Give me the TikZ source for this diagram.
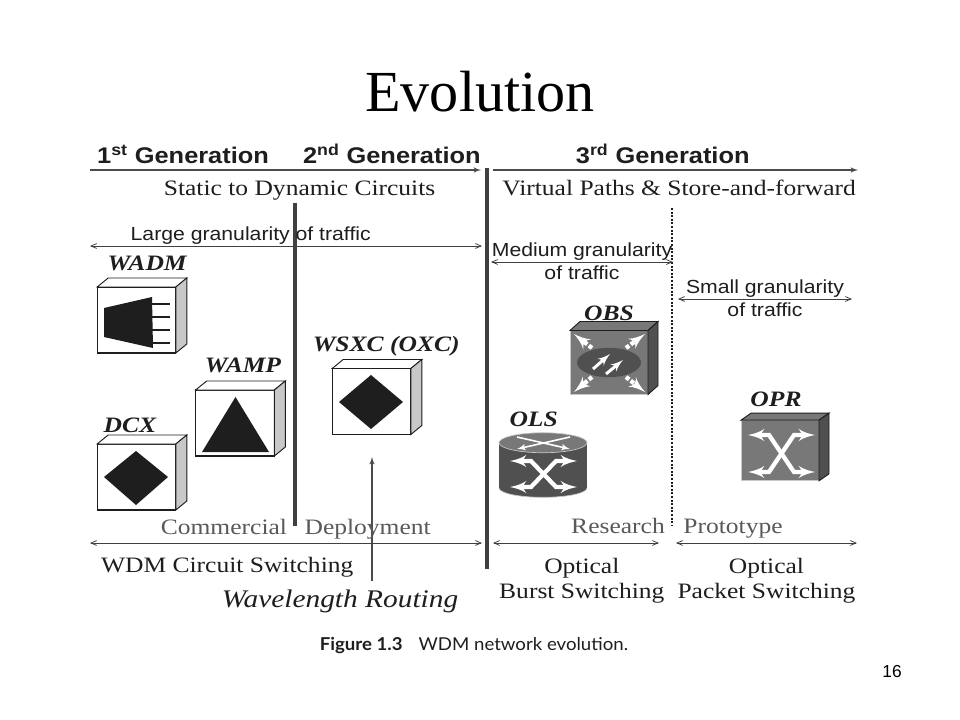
\documentclass[tikz,border=0pt]{standalone}
\usepackage{fontspec}
\setmainfont{Liberation Serif}
\setsansfont[FakeStretch=1.12]{Liberation Sans}
\newfontfamily\wideserif[FakeStretch=1.16]{Liberation Serif}
\newfontfamily\capfont[FakeStretch=1.05]{Lato}
\newfontfamily\pagefont{Liberation Sans}
\usetikzlibrary{arrows}
\usetikzlibrary{positioning}
\definecolor{sidegray}{HTML}{C8C8C8}
\definecolor{metal}{HTML}{787878}
\definecolor{metaldark}{HTML}{505050}
\definecolor{ink}{HTML}{1E1E1E}
\tikzstyle{whitebox} = [
        rectangle, draw=ink, fill=white, line width=.9pt,
        inner sep=0pt, outer sep=0pt,
        minimum width=59pt, minimum height=49.5pt
    ]
\tikzstyle{darkbox} = [
        rectangle, draw=sidegray, fill=metal, line width=.6pt,
        inner sep=0pt, outer sep=0pt,
        minimum width=58.5pt, minimum height=48pt
    ]
\tikzstyle{solid shape} = [fill=ink, draw=none]
\tikzstyle{gen} = [font=\sffamily\bfseries\fontsize{17}{17}\selectfont, text=ink,
        text height=12.5pt, text depth=.5pt, inner sep=2pt]
\tikzstyle{sans} = [font=\sffamily\fontsize{14.2}{14.2}\selectfont, text=ink,
        text height=10.5pt, text depth=3pt, inner sep=1pt]
\tikzstyle{serif} = [font=\wideserif\fontsize{16.5}{20}\selectfont, text=ink,
        text height=11pt, text depth=3.5pt, inner sep=2pt]
\tikzstyle{soft} = [serif, text=black!65]
\tikzstyle{devlabel} = [font=\wideserif\bfseries\itshape\fontsize{16.5}{17}\selectfont, text=ink, inner sep=0pt]
\tikzstyle{line} = [draw=ink!80, line width=.9pt, -latex']
\tikzstyle{both} = [draw=ink!85, line width=.6pt, <->, >=angle 45]
\tikzstyle{wall} = [draw=ink!85, line width=2.6pt]
\tikzstyle{xarrow} = [draw=white, line width=3.2pt, <->, >=latex']
\tikzstyle{ringarrow} = [draw=white, line width=3.2pt, ->, >=latex', dash pattern=on 3pt off 1.5pt]
\tikzstyle{minor} = [draw=white, line width=2.2pt, ->, >=latex']

\newcommand{\boxfaces}[5]{
    \path [fill=#4, draw=ink, line width=.7pt] (#1.north west) -- ++(#2,-#3)
        -- ([shift={(#2,-#3)}]#1.north east) -- (#1.north east) -- cycle;
    \path [fill=#5, draw=ink, line width=.7pt] (#1.north east) -- ++(#2,-#3)
        -- ([shift={(#2,-#3)}]#1.south east) -- (#1.south east) -- cycle;
}
\newcommand{\crossarrows}[2]{
    \path [xarrow] ([shift={(-33.5,-#2/2)}]#1) -- ++(21,0) -- ++(25,#2) -- ++(21,0);
    \path [xarrow] ([shift={(-33.5,#2/2)}]#1) -- ++(21,0) -- ++(25,-#2) -- ++(21,0);
}

\begin{document}
\begin{tikzpicture}[x=.75pt, y=-.75pt]
    \useasboundingbox [fill=white] (0,0) rectangle (960,720);
    \node (title) at (480,92) {\fontsize{43.6}{44}\selectfont Evolution};

    % generation axes
    \coordinate (topA) at (90,170);
    \coordinate (topB) at (481,170);
    \coordinate (topC) at (493,170);
    \coordinate (topD) at (858,170);
    \path [line] (topA) -- node[gen, above, pos=.238, yshift=2pt] {1\textsuperscript{st} Generation}
        node[gen, above, pos=.772, yshift=2pt] {2\textsuperscript{nd} Generation}
        node[serif, below, pos=.536, yshift=-6pt] {Static to Dynamic Circuits} (topB);
    \path [line] (topC) -- node[gen, above, pos=.465, yshift=2pt] {3\textsuperscript{rd} Generation}
        node[serif, below, pos=.51, yshift=-6pt] {Virtual Paths \& Store-and-forward} (topD);

    % dividers
    \coordinate (wallAt) at (295,203);
    \coordinate (wallAb) at (295,526);
    \coordinate (wallBt) at (487,168);
    \coordinate (wallBb) at (487,569);
    \coordinate (dotT) at (672,208);
    \coordinate (dotB) at (672,525);
    \path [wall] (wallAt) -- (wallAb);
    \path [wall] (wallBt) -- (wallBb);
    \path [draw=ink, line width=2pt, dash pattern=on 1.5pt off 1.2pt] (dotT) -- (dotB);

    % granularity
    \coordinate (largeA) at (90,246);
    \coordinate (largeB) at (482,246);
    \coordinate (medA) at (491,262);
    \coordinate (medB) at (673,262);
    \coordinate (smallA) at (678,299);
    \coordinate (smallB) at (852,299);
    \path [both] (largeA) -- node[sans, above, pos=.41] {Large granularity of traffic} (largeB);
    \path [both] (medA) -- node[sans, above] {Medium granularity} node[sans, below, yshift=-1.5pt] {of traffic} (medB);
    \path [both] (smallA) -- node[sans, above] {Small granularity} node[sans, below, yshift=-1.5pt] {of traffic} (smallB);

    % devices, first generations
    \node [whitebox] (wadm) at (136.5,320) {};
    \node [whitebox] (wamp) at (235,423) {};
    \node [whitebox] (dcx) at (136.5,477) {};
    \node [whitebox] (oxc) at (371.5,401.5) {};
    \boxfaces{wadm}{11}{9}{white}{sidegray}
    \boxfaces{wamp}{11}{9}{white}{sidegray}
    \boxfaces{dcx}{11}{9}{white}{sidegray}
    \boxfaces{oxc}{11}{9}{white}{sidegray}
    \path [solid shape] (104,308) -- (152,297) -- (153,348) -- (104,337) -- cycle;
    \foreach \y in {304,317,330,343}
        \path [draw=ink, line width=1.5pt] (150,\y) -- (170,\y);
    \path [solid shape] (235.5,397) -- (269,452) -- (202,452) -- cycle;
    \path [solid shape] (136,451) -- (168,477) -- (136,505) -- (104,477) -- cycle;
    \path [solid shape] (371,375) -- (403,402) -- (371,429) -- (339,402) -- cycle;

    \node [devlabel, above=12pt of wadm, xshift=8pt] (wadmT) {WADM};
    \node [devlabel, above=12.5pt of wamp, xshift=6pt] (wampT) {WAMP};
    \node [devlabel, above=8.5pt of dcx, xshift=-5pt] (dcxT) {DCX};
    \node [devlabel, above=9pt of oxc, xshift=11pt] (oxcT) {WSXC (OXC)};

    % devices, third generation
    \node [darkbox] (obs) at (609,362.5) {};
    \boxfaces{obs}{10}{9}{metal}{metaldark}
    \path [ringarrow] (592,348) -- (574,334);
    \path [ringarrow] (626,348) -- (645,334);
    \path [ringarrow] (592,377) -- (574,392);
    \path [ringarrow] (626,377) -- (645,392);
    \path [fill=metaldark] (obs.center) ellipse [x radius=24pt, y radius=11pt];
    \path [minor] (593,369) -- (610,354);
    \path [minor] (606,374) -- (623,360);

    \path [fill=metaldark, draw=sidegray, line width=.5pt] (543,488) ellipse [x radius=33pt, y radius=7pt];
    \node [rectangle, fill=metaldark, inner sep=0pt, minimum width=66pt, minimum height=33.75pt] (ols) at (543,465.5) {};
    \path [fill=metal, draw=sidegray, line width=.5pt] (ols.north) ellipse [x radius=33pt, y radius=7.5pt];
    \path [minor, line width=1.2pt] (517,437) -- (570,449);
    \path [minor, line width=1.2pt] (570,437) -- (517,449);
    \coordinate (olsX) at (543.5,474);
    \crossarrows{olsX}{26}

    \node [darkbox, minimum height=45.5pt] (opr) at (780,450.5) {};
    \boxfaces{opr}{10}{7}{metal}{metaldark}
    \coordinate (oprX) at (781.5,453.5);
    \crossarrows{oprX}{37}

    \node [devlabel, above=7pt of obs] (obsT) {OBS};
    \node [devlabel, above=12pt of ols, xshift=-7pt] (olsT) {OLS};
    \node [devlabel, above=10pt of opr, xshift=-3pt] (oprT) {OPR};

    % wavelength routing
    \node [font=\wideserif\itshape\fontsize{19}{20}\selectfont, text=ink, inner sep=2pt] (route) at (340,601) {Wavelength Routing};
    \coordinate (routeT) at (372,457);
    \coordinate (routeB) at (372,581);
    \path [line] (routeB) -- (routeT);

    % deployment axes
    \coordinate (wdmA) at (90,543);
    \coordinate (wdmB) at (482,543);
    \coordinate (burstA) at (493,543);
    \coordinate (burstB) at (659,543);
    \coordinate (packA) at (676,543);
    \coordinate (packB) at (857,543);
    \path [both] (wdmA) -- node[soft, above, pos=.525, yshift=.8pt] {Commercial\hspace{.8em}Deployment}
        node[serif, below, pos=.35, yshift=-9pt] {WDM Circuit Switching} (wdmB);
    \path [both] (burstA) -- node[serif, below, pos=.535, yshift=-9.5pt] (burstT) {Optical} (burstB);
    \path [both] (packA) -- node[serif, below, yshift=-9.5pt] (packT) {Optical} (packB);
    \node [serif, below=0pt of burstT] (burstL) {Burst Switching};
    \node [serif, below=0pt of packT] (packL) {Packet Switching};
    \node [soft] (research) at (618,528) {Research};
    \node [soft] (proto) at (733,528) {Prototype};

    \node [font=\capfont\fontsize{13.3}{14}\selectfont, text=ink] (caption) at (474,646) {\textbf{Figure 1.3}\hspace{.9em}WDM network evolution.};
    \node [font=\pagefont\fontsize{13}{14}\selectfont] (page) at (892,672) {16};
\end{tikzpicture}
\end{document}
